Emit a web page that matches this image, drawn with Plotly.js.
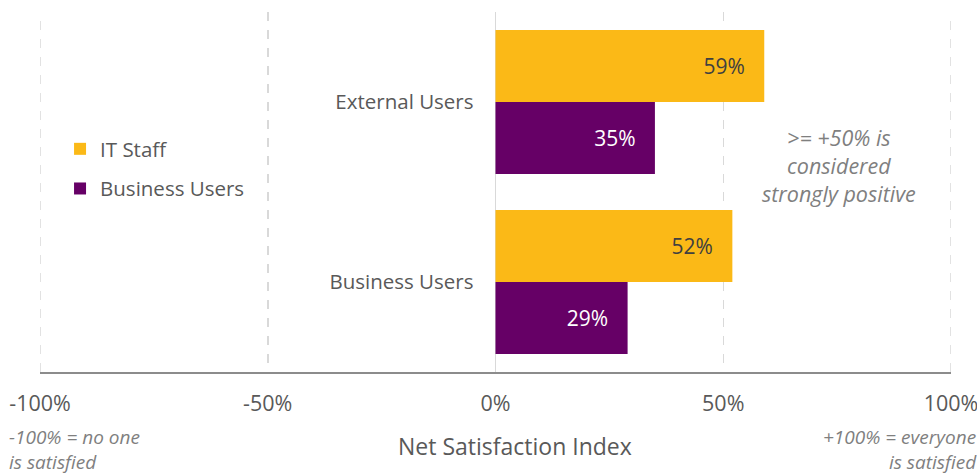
<!DOCTYPE html>
<html>
<head>
<meta charset="utf-8">
<script src="https://cdn.plot.ly/plotly-3.0.1.min.js"></script>
<style>html,body{margin:0;padding:0;background:#fff;}#chart{width:977px;height:474px;}</style>
</head>
<body>
<div id="chart"></div>
<script>
const categories = ['Business Users', 'External Users'];
const itStaff = [52, 59];
const businessUsers = [29, 35];
const tickVals = [-100, -50, 0, 50, 100];
const tickLabels = ['-100%', '-50%', '0%', '50%', '100%'];
const seriesNames = ['Business Users', 'IT Staff'];

const FONT = 'Open Sans, Noto Sans, sans-serif';
const PAD = '\u00a0\u00a0\u00a0';

const traces = [
  {
    type: 'bar', orientation: 'h', name: seriesNames[0], legendgroup: 'b', legendrank: 2,
    y: categories, x: businessUsers,
    marker: {color: '#660066', line: {width: 0}},
    text: businessUsers.map(v => v + '%' + PAD),
    textposition: 'inside', insidetextanchor: 'end',
    textfont: {family: FONT, size: 21, color: '#ffffff'},
    hoverinfo: 'skip'
  },
  {
    type: 'bar', orientation: 'h', name: seriesNames[1], legendgroup: 'a', legendrank: 1,
    y: categories, x: itStaff,
    marker: {color: '#FBB917', line: {width: 0}},
    text: itStaff.map(v => v + '%' + PAD),
    textposition: 'inside', insidetextanchor: 'end',
    textfont: {family: FONT, size: 21, color: '#404040'},
    hoverinfo: 'skip'
  }
];

const gridEdge = [-100, 100].map(v => ({
  type: 'line', xref: 'x', yref: 'paper', x0: v, x1: v, y0: 0, y1: 1,
  line: {color: '#d9d9d9', width: 1.5, dash: 'dash'}, layer: 'below'
}));

const layout = {
  width: 977, height: 474,
  margin: {l: 40, r: 26, t: 12, b: 102},
  paper_bgcolor: '#ffffff', plot_bgcolor: '#ffffff',
  font: {family: FONT, color: '#595959'},
  barmode: 'group', bargap: 0.2, bargroupgap: 0,
  showlegend: true,
  legend: {
    x: 0.022, xanchor: 'left', y: 0.675, yanchor: 'top',
    traceorder: 'grouped', tracegroupgap: 10,
    font: {family: FONT, size: 20.5, color: '#595959'},
    bgcolor: 'rgba(0,0,0,0)'
  },
  shapes: gridEdge,
  xaxis: {
    range: [-100, 100],
    tickvals: tickVals, ticktext: tickLabels,
    tickfont: {family: FONT, size: 21.5, color: '#595959'},
    ticks: '', ticklabelstandoff: 11, ticklabeloverflow: 'allow',
    showgrid: true, gridcolor: '#d9d9d9', griddash: 'dash', gridwidth: 1.5,
    zeroline: true, zerolinecolor: '#d9d9d9', zerolinewidth: 1.5,
    showline: true, linecolor: '#8c8c8c', linewidth: 2,
    fixedrange: true
  },
  yaxis: {
    type: 'category', categoryorder: 'array', categoryarray: categories,
    range: [-0.5, 1.5],
    anchor: 'free', position: 0.5,
    showgrid: false, zeroline: false, showline: false, ticks: '',
    ticklabelstandoff: 22,
    tickfont: {family: FONT, size: 20.5, color: '#595959'},
    fixedrange: true
  },
  annotations: [
    {xref: 'paper', yref: 'paper', x: 0.521, y: -0.205, xanchor: 'center', yanchor: 'middle',
     text: 'Net Satisfaction Index', showarrow: false,
     font: {family: FONT, size: 23, color: '#595959'}},
    {xref: 'paper', yref: 'paper', x: 0.877, y: 0.575, xanchor: 'center', yanchor: 'middle',
     text: '<i>&gt;= +50% is<br>considered<br>strongly positive</i>', showarrow: false, align: 'center',
     font: {family: FONT, size: 21.5, color: '#7f7f7f'}},
    {xref: 'paper', yref: 'paper', x: -0.036, y: -0.215, xanchor: 'left', yanchor: 'middle',
     text: '<i>-100% = no one<br>is satisfied</i>', showarrow: false, align: 'left',
     font: {family: FONT, size: 19, color: '#7f7f7f'}},
    {xref: 'paper', yref: 'paper', x: 1.031, y: -0.215, xanchor: 'right', yanchor: 'middle',
     text: '<i>+100% = everyone<br>is satisfied</i>', showarrow: false, align: 'right',
     font: {family: FONT, size: 19, color: '#7f7f7f'}}
  ]
};

Plotly.newPlot('chart', traces, layout, {displayModeBar: false, staticPlot: true});
</script>
</body>
</html>
